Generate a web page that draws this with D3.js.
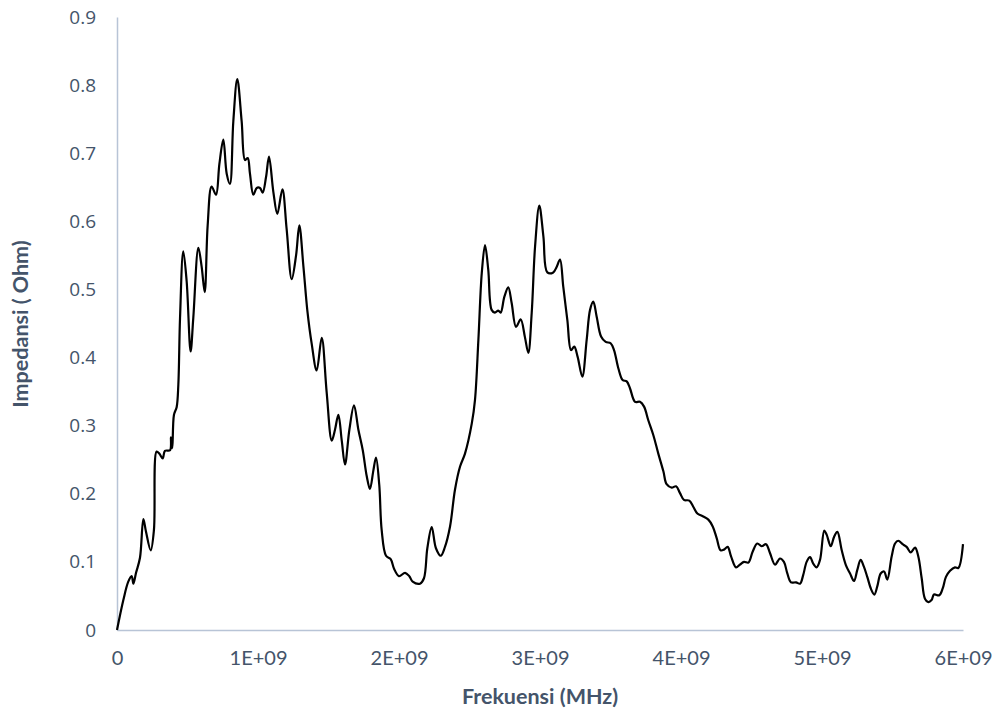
<!DOCTYPE html>
<html>
<head>
<meta charset="utf-8">
<script src="https://cdn.jsdelivr.net/npm/d3@7"></script>
<style>
  body { margin: 0; background: #fff; }
  svg { display: block; }
</style>
</head>
<body>
<div id="chart"></div>
<script>
// frequency in units of 1E+09
var freq = [
  0, 0.045, 0.08, 0.104, 0.116, 0.135, 0.163, 0.187, 0.205, 0.239, 0.262, 0.281, 0.30, 0.324, 0.34,
  0.376, 0.383, 0.392, 0.404, 0.423, 0.435, 0.447, 0.47, 0.494, 0.522, 0.541, 0.577, 0.6, 0.622,
  0.643, 0.671, 0.702, 0.726, 0.754, 0.778, 0.801, 0.825, 0.853, 0.884, 0.908, 0.927, 0.943, 0.967,
  0.991, 1.014, 1.033, 1.057, 1.078, 1.109, 1.137, 1.173, 1.203, 1.239, 1.27, 1.293, 1.322, 1.35,
  1.381, 1.416, 1.452, 1.487, 1.523, 1.546, 1.57, 1.594, 1.617, 1.648, 1.681, 1.712, 1.743, 1.771,
  1.794, 1.818, 1.837, 1.86, 1.877, 1.908, 1.941, 1.965, 2.0, 2.043, 2.073, 2.097, 2.149, 2.177,
  2.201, 2.232, 2.262, 2.296, 2.326, 2.362, 2.397, 2.433, 2.468, 2.516, 2.539, 2.563, 2.587, 2.61,
  2.633, 2.657, 2.68, 2.704, 2.721, 2.747, 2.775, 2.799, 2.83, 2.863, 2.893, 2.917, 2.941, 2.965,
  2.995, 3.024, 3.052, 3.094, 3.118, 3.142, 3.165, 3.194, 3.22, 3.243, 3.267, 3.3, 3.331, 3.355,
  3.378, 3.402, 3.433, 3.466, 3.501, 3.525, 3.556, 3.586, 3.615, 3.638, 3.674, 3.709, 3.738, 3.768,
  3.804, 3.839, 3.875, 3.898, 3.934, 3.965, 3.993, 4.021, 4.059, 4.087, 4.116, 4.154, 4.194, 4.225,
  4.253, 4.281, 4.305, 4.331, 4.355, 4.39, 4.418, 4.447, 4.478, 4.508, 4.541, 4.572, 4.603, 4.631,
  4.667, 4.702, 4.73, 4.754, 4.78, 4.816, 4.844, 4.867, 4.891, 4.915, 4.939, 4.962, 4.986, 5.016,
  5.033, 5.062, 5.086, 5.109, 5.14, 5.17, 5.199, 5.227, 5.25, 5.274, 5.297, 5.321, 5.348, 5.371,
  5.392, 5.416, 5.44, 5.463, 5.494, 5.518, 5.541, 5.572, 5.6, 5.629, 5.66, 5.683, 5.707, 5.73,
  5.754, 5.777, 5.794, 5.832, 5.856, 5.879, 5.908, 5.943, 5.967, 6.0
];

// impedance (Ohm)
var impedance = [
  0, 0.044, 0.071, 0.079, 0.068, 0.084, 0.106, 0.163, 0.145, 0.117, 0.147, 0.262, 0.259, 0.252, 0.263,
  0.264, 0.283, 0.267, 0.316, 0.327, 0.36, 0.458, 0.556, 0.512, 0.409, 0.458, 0.561, 0.534, 0.496,
  0.594, 0.651, 0.639, 0.684, 0.72, 0.67, 0.655, 0.747, 0.809, 0.747, 0.69, 0.693, 0.67, 0.639,
  0.649, 0.649, 0.642, 0.665, 0.695, 0.643, 0.611, 0.647, 0.589, 0.515, 0.55, 0.594, 0.534, 0.469,
  0.42, 0.381, 0.429, 0.349, 0.278, 0.294, 0.316, 0.278, 0.243, 0.294, 0.33, 0.294, 0.264, 0.226,
  0.207, 0.234, 0.253, 0.213, 0.147, 0.109, 0.104, 0.09, 0.079, 0.084, 0.079, 0.071, 0.068, 0.076,
  0.12, 0.151, 0.12, 0.109, 0.122, 0.152, 0.206, 0.24, 0.259, 0.303, 0.338, 0.426, 0.524, 0.565,
  0.529, 0.47, 0.466, 0.469, 0.466, 0.489, 0.503, 0.48, 0.445, 0.456, 0.43, 0.407, 0.465, 0.563,
  0.623, 0.578, 0.525, 0.525, 0.533, 0.544, 0.504, 0.455, 0.411, 0.416, 0.401, 0.372, 0.426, 0.47,
  0.482, 0.46, 0.431, 0.423, 0.421, 0.411, 0.384, 0.367, 0.365, 0.355, 0.335, 0.335, 0.328, 0.308,
  0.286, 0.259, 0.233, 0.214, 0.209, 0.211, 0.201, 0.191, 0.19, 0.181, 0.171, 0.167, 0.162, 0.152,
  0.135, 0.117, 0.118, 0.122, 0.108, 0.092, 0.096, 0.1, 0.099, 0.115, 0.127, 0.123, 0.126, 0.113,
  0.096, 0.105, 0.1, 0.083, 0.07, 0.07, 0.068, 0.081, 0.1, 0.107, 0.097, 0.092, 0.103, 0.146,
  0.14, 0.123, 0.137, 0.144, 0.117, 0.095, 0.083, 0.072, 0.088, 0.103, 0.093, 0.078, 0.06, 0.052,
  0.064, 0.083, 0.086, 0.074, 0.108, 0.127, 0.131, 0.126, 0.122, 0.114, 0.121, 0.108, 0.076, 0.046,
  0.041, 0.044, 0.052, 0.051, 0.061, 0.078, 0.087, 0.092, 0.091, 0.126
];

var xTicks = [0, 1e9, 2e9, 3e9, 4e9, 5e9, 6e9];
var xTickLabels = ["0", "1E+09", "2E+09", "3E+09", "4E+09", "5E+09", "6E+09"];
var yTicks = [0, 0.1, 0.2, 0.3, 0.4, 0.5, 0.6, 0.7, 0.8, 0.9];
var yTickLabels = ["0", "0.1", "0.2", "0.3", "0.4", "0.5", "0.6", "0.7", "0.8", "0.9"];

var width = 999;
var height = 715;
var axisColor = "#b8c4d6";
var textColor = "#44546a";

var svg = d3.select("#chart").append("svg")
    .attr("width", width)
    .attr("height", height);

var x = d3.scaleLinear().domain([0, 6e9]).range([117, 963]);
var y = d3.scaleLinear().domain([0, 0.9]).range([630, 17]);

// y axis
var yAxis = svg.append("g")
    .attr("transform", "translate(117,0)")
    .call(d3.axisLeft(y).tickValues(yTicks)
      .tickFormat(function (d, i) { return yTickLabels[i]; })
      .tickSize(0).tickPadding(21));
yAxis.select(".domain").attr("stroke", axisColor).attr("stroke-width", 1.5);
yAxis.selectAll("text")
    .attr("font-family", "'Open Sans', sans-serif")
    .attr("font-size", "19px")
    .attr("fill", textColor);

// x axis
var xAxis = svg.append("g")
    .attr("transform", "translate(0,630)")
    .call(d3.axisBottom(x).tickValues(xTicks)
      .tickFormat(function (d, i) { return xTickLabels[i]; })
      .tickSize(0).tickPadding(21));
xAxis.select(".domain").attr("stroke", axisColor).attr("stroke-width", 1.5);
xAxis.selectAll("text")
    .attr("font-family", "Lato, sans-serif")
    .attr("font-size", "20px")
    .attr("fill", textColor);

// the curve
var points = freq.map(function (f, i) { return [f * 1e9, impedance[i]]; });
var line = d3.line()
    .x(function (d) { return x(d[0]); })
    .y(function (d) { return y(d[1]); })
    .curve(d3.curveCatmullRom.alpha(0.5));

svg.append("path")
    .datum(points)
    .attr("d", line)
    .attr("fill", "none")
    .attr("stroke", "#000")
    .attr("stroke-width", 2.2)
    .attr("stroke-linejoin", "round");

// axis titles
svg.append("text")
    .attr("x", 540)
    .attr("y", 704)
    .attr("text-anchor", "middle")
    .attr("font-family", "Lato, sans-serif")
    .attr("font-weight", "bold")
    .attr("font-size", "21.5px")
    .attr("fill", textColor)
    .text("Frekuensi (MHz)");

svg.append("text")
    .attr("transform", "translate(28,324) rotate(-90)")
    .attr("text-anchor", "middle")
    .attr("font-family", "Lato, sans-serif")
    .attr("font-weight", "bold")
    .attr("font-size", "21.5px")
    .attr("fill", textColor)
    .text("Impedansi ( Ohm)");
</script>
</body>
</html>
